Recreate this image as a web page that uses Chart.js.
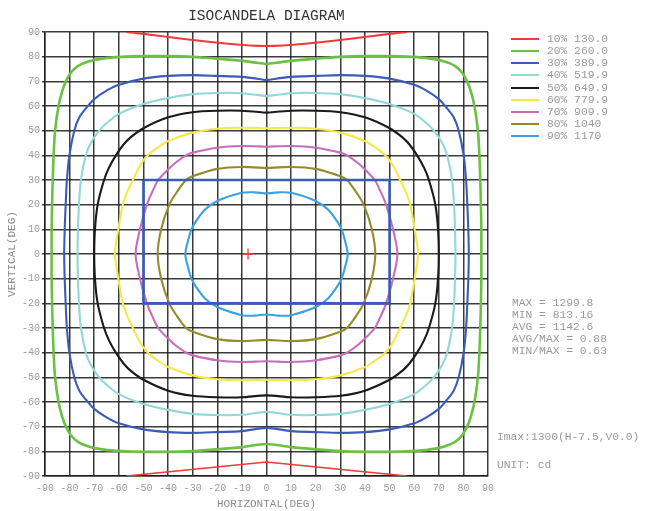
<!DOCTYPE html>
<html><head><meta charset="utf-8">
<script src="https://cdn.jsdelivr.net/npm/chart.js@4.4.1/dist/chart.umd.min.js"></script>
<style>
body{margin:0;background:#fff;}
#wrap{position:relative;width:645px;height:511px;font-family:'Liberation Mono','DejaVu Sans Mono',monospace;overflow:hidden;}
canvas{position:absolute;left:0;top:0;}
.txt{position:absolute;white-space:pre;color:#9a9a9a;font-size:11.3px;line-height:12px;}
#title{position:absolute;left:0;width:533px;top:8px;text-align:center;font-size:14.5px;color:#333;white-space:pre;}
.lg{position:absolute;left:511px;width:510px;height:12px;}
.lg span.ln{position:absolute;left:0;top:5px;width:28px;height:2px;}
.lg span.tx{position:absolute;left:36px;top:0;white-space:pre;color:#9a9a9a;font-size:11.3px;line-height:12px;}
</style></head><body>
<div id="wrap"><canvas id="c" width="645" height="511"></canvas>
<div id="title">ISOCANDELA DIAGRAM</div>
<div id="legend"></div><div id="stats"></div></div>
<script>
// ---- data ----
const levelNames = ['10%','20%','30%','40%','50%','60%','70%','80%','90%'];
const levelValues = ['130.0','260.0','389.9','519.9','649.9','779.9','909.9','1040','1170'];
const statLines = ['MAX = 1299.8','MIN = 813.16','AVG = 1142.6','AVG/MAX = 0.88','MIN/MAX = 0.63'];
const imaxText = 'Imax:1300(H-7.5,V0.0)';
const unitText = 'UNIT: cd';
const imaxPoint = [[-7.5, 0]];
const rectangle = [[-50,30],[50,30],[50,-20],[-50,-20],[-50,30]];
const axisMin = -90, axisMax = 90, tickStep = 10;

const c10Top = [[-57,90],[0,84.3],[57,90]];
const c10Bottom = [[-57,-90],[0,-84.3],[57,-90]];
const c20 = [[0,77],[-10,78.3],[-20,79.2],[-30,79.9],[-40,80.2],[-50,80.2],[-59,79.9],[-66,79.3],[-72,78.1],[-76.5,76.3],[-79.5,73.5],[-81.5,70],[-83,66],[-84.5,60],[-85.9,50],[-86.5,40],[-87,25],[-87.3,10],[-87.3,0],
 [-87.3,-10],[-87,-25],[-86.5,-40],[-85.9,-50],[-84.5,-60],[-83,-66],[-81.5,-70],[-79.5,-73.5],[-76.5,-76.3],[-72,-78.1],[-66,-79.3],[-59,-79.9],[-50,-80.2],[-40,-80.2],[-30,-79.9],[-20,-79.2],[-10,-78.3],[0,-77],
 [10,-78.3],[20,-79.2],[30,-79.9],[40,-80.2],[50,-80.2],[59,-79.9],[66,-79.3],[72,-78.1],[76.5,-76.3],[79.5,-73.5],[81.5,-70],[83,-66],[84.5,-60],[85.9,-50],[86.5,-40],[87,-25],[87.3,-10],[87.3,0],
 [87.3,10],[87,25],[86.5,40],[85.9,50],[84.5,60],[83,66],[81.5,70],[79.5,73.5],[76.5,76.3],[72,78.1],[66,79.3],[59,79.9],[50,80.2],[40,80.2],[30,79.9],[20,79.2],[10,78.3],[0,77]];
const c30 = [[0,70.5],[-10,71.8],[-20,72.2],[-30,72.5],[-40,72.2],[-50,71.1],[-60,68.6],[-65,66.2],[-70,62.8],[-73,59.5],[-76,55.5],[-78.1,50],[-80.1,40],[-81.1,30],[-81.6,20],[-82,10],[-82.2,0],
 [-82,-10],[-81.6,-20],[-81.1,-30],[-80.1,-40],[-78.1,-50],[-76,-55.5],[-73,-59.5],[-70,-62.8],[-65,-66.2],[-60,-68.6],[-50,-71.1],[-40,-72.2],[-30,-72.5],[-20,-72.2],[-10,-71.8],[0,-70.5],
 [10,-71.8],[20,-72.2],[30,-72.5],[40,-72.2],[50,-71.1],[60,-68.6],[65,-66.2],[70,-62.8],[73,-59.5],[76,-55.5],[78.1,-50],[80.1,-40],[81.1,-30],[81.6,-20],[82,-10],[82.2,0],
 [82,10],[81.6,20],[81.1,30],[80.1,40],[78.1,50],[76,55.5],[73,59.5],[70,62.8],[65,66.2],[60,68.6],[50,71.1],[40,72.2],[30,72.5],[20,72.2],[10,71.8],[0,70.5]];
const c40 = [[0,64],[-10,65.2],[-20,65.3],[-30,64.8],[-40,63.2],[-50,60.8],[-60,56.8],[-65,53],[-68,50],[-71.4,45],[-73.4,40],[-75.4,30],[-76.2,20],[-76.6,10],[-76.8,0],
 [-76.6,-10],[-76.2,-20],[-75.4,-30],[-73.4,-40],[-71.4,-45],[-68,-50],[-65,-53],[-60,-56.8],[-50,-60.8],[-40,-63.2],[-30,-64.8],[-20,-65.3],[-10,-65.2],[0,-64],
 [10,-65.2],[20,-65.3],[30,-64.8],[40,-63.2],[50,-60.8],[60,-56.8],[65,-53],[68,-50],[71.4,-45],[73.4,-40],[75.4,-30],[76.2,-20],[76.6,-10],[76.8,0],
 [76.6,10],[76.2,20],[75.4,30],[73.4,40],[71.4,45],[68,50],[65,53],[60,56.8],[50,60.8],[40,63.2],[30,64.8],[20,65.3],[10,65.2],[0,64]];
const c50 = [[0,57.3],[-10,58.1],[-20,58.1],[-30,57.5],[-40,55.4],[-50,51],[-55,47.5],[-58,44.5],[-61.2,40],[-64,35],[-66,30],[-68.6,20],[-69.7,10],[-70,0],
 [-69.7,-10],[-68.6,-20],[-66,-30],[-64,-35],[-61.2,-40],[-58,-44.5],[-55,-47.5],[-50,-51],[-40,-55.4],[-30,-57.5],[-20,-58.1],[-10,-58.1],[0,-57.3],
 [10,-58.1],[20,-58.1],[30,-57.5],[40,-55.4],[50,-51],[55,-47.5],[58,-44.5],[61.2,-40],[64,-35],[66,-30],[68.6,-20],[69.7,-10],[70,0],
 [69.7,10],[68.6,20],[66,30],[64,35],[61.2,40],[58,44.5],[55,47.5],[50,51],[40,55.4],[30,57.5],[20,58.1],[10,58.1],[0,57.3]];
const c60 = [[0,51],[-10,51.2],[-20,50.8],[-30,49.2],[-40,45.8],[-45,42.6],[-48.2,40],[-51,36.5],[-54.3,30],[-57,24.2],[-58.4,20],[-60.2,10],[-61.6,0],
 [-60.2,-10],[-58.4,-20],[-57,-24.2],[-54.3,-30],[-51,-36.5],[-48.2,-40],[-45,-42.6],[-40,-45.8],[-30,-49.2],[-20,-50.8],[-10,-51.2],[0,-51],
 [10,-51.2],[20,-50.8],[30,-49.2],[40,-45.8],[45,-42.6],[48.2,-40],[51,-36.5],[54.3,-30],[57,-24.2],[58.4,-20],[60.2,-10],[61.6,0],
 [60.2,10],[58.4,20],[57,24.2],[54.3,30],[51,36.5],[48.2,40],[45,42.6],[40,45.8],[30,49.2],[20,50.8],[10,51.2],[0,51]];
const c70 = [[0,43.5],[-10,43.8],[-20,43.1],[-30,41.1],[-32.7,40],[-37,37],[-40,34.3],[-44,30],[-46.5,25],[-48.6,20],[-51.4,10],[-53.2,0],
 [-51.4,-10],[-48.6,-20],[-46.5,-25],[-44,-30],[-40,-34.3],[-37,-37],[-32.7,-40],[-30,-41.1],[-20,-43.1],[-10,-43.8],[0,-43.5],
 [10,-43.8],[20,-43.1],[30,-41.1],[32.7,-40],[37,-37],[40,-34.3],[44,-30],[46.5,-25],[48.6,-20],[51.4,-10],[53.2,0],
 [51.4,10],[48.6,20],[46.5,25],[44,30],[40,34.3],[37,37],[32.7,40],[30,41.1],[20,43.1],[10,43.8],[0,43.5]];
const c80 = [[0,34.8],[-10,35.3],[-20,34.5],[-30,31.5],[-32.7,30],[-36.5,25],[-39.5,20],[-42.8,10],[-44.2,0],
 [-42.8,-10],[-39.5,-20],[-36.5,-25],[-32.7,-30],[-30,-31.5],[-20,-34.5],[-10,-35.3],[0,-34.8],
 [10,-35.3],[20,-34.5],[30,-31.5],[32.7,-30],[36.5,-25],[39.5,-20],[42.8,-10],[44.2,0],
 [42.8,10],[39.5,20],[36.5,25],[32.7,30],[30,31.5],[20,34.5],[10,35.3],[0,34.8]];
const c90 = [[0,24.5],[-5,25],[-10,24.8],[-20,21.5],[-25,18],[-28.5,13.5],[-30.5,10],[-32,5],[-33,0],
 [-32,-5],[-30.5,-10],[-28.5,-13.5],[-25,-18],[-20,-21.5],[-10,-24.8],[-5,-25],[0,-24.5],
 [5,-25],[10,-24.8],[20,-21.5],[25,-18],[28.5,-13.5],[30.5,-10],[32,-5],[33,0],
 [32,5],[30.5,10],[28.5,13.5],[25,18],[20,21.5],[10,24.8],[5,25],[0,24.5]];

// ---- styles ----
const lineColors = ['#f23a3a','#6cc044','#3b5cb6','#93d7d7','#1a1a1a','#f7e84a','#c96cbc','#968b2c','#3aa2e0'];
const FONT = "'Liberation Mono','DejaVu Sans Mono',monospace";

const curves = [c10Top, c20, c30, c40, c50, c60, c70, c80, c90];
const toXY = arr => arr.map(p => ({x: p[0], y: p[1]}));

const datasets = [];
datasets.push({label:'Imax', data: toXY(imaxPoint), showLine:false, pointStyle:'cross', pointRadius:5.5, borderColor:'#f23a3a', borderWidth:1.3, backgroundColor:'#f23a3a'});
datasets.push({label:'rect', data: toXY(rectangle), showLine:true, tension:0, borderColor:'#3b5cb6', borderWidth:2.6, pointRadius:0});
curves.forEach((c, i) => {
  datasets.push({label: levelNames[i] + ' ' + levelValues[i], data: toXY(c), showLine:true, tension:0.3,
    borderColor: lineColors[i], borderWidth: i === 1 ? 2.6 : 2.1, pointRadius:0, fill:false});
});
datasets.push({label:'10b', data: toXY(c10Bottom), showLine:true, tension:0, borderColor: lineColors[0], borderWidth:1.6, pointRadius:0});

const gridColor = 'rgba(25,25,25,0.85)';
new Chart(document.getElementById('c'), {
  type: 'scatter',
  data: { datasets },
  options: {
    responsive:false, animation:false, devicePixelRatio:1,
    layout: { padding: { left:0, right:157, top:32, bottom:0 } },
    plugins: { legend:{display:false}, tooltip:{enabled:false}, title:{display:false} },
    scales: {
      x: { type:'linear', min:axisMin, max:axisMax,
        ticks:{ stepSize:tickStep, color:'#9a9a9a', font:{family:FONT, size:10}, padding:6, maxRotation:0, autoSkip:false },
        grid:{ color:gridColor, lineWidth:1.5, drawTicks:false },
        border:{ color:gridColor, width:1.5 },
        title:{ display:true, text:'HORIZONTAL(DEG)', color:'#8a8a8a', font:{family:FONT, size:11}, padding:{top:0,bottom:0} },
        afterFit: s => { s.height = 35; }
      },
      y: { type:'linear', min:axisMin, max:axisMax,
        ticks:{ stepSize:tickStep, color:'#9a9a9a', font:{family:FONT, size:10}, padding:2, autoSkip:false },
        grid:{ color:gridColor, lineWidth:1.5, drawTicks:true, tickLength:3 },
        border:{ color:gridColor, width:1.5 },
        title:{ display:true, text:'VERTICAL(DEG)', color:'#8a8a8a', font:{family:FONT, size:11}, padding:{top:5,bottom:0} },
        afterFit: s => { s.width = 45; }
      }
    }
  }
});

// legend and notes
const lg = document.getElementById('legend');
const legendTops = 33, legendStep = 12.15;
levelNames.forEach((n, i) => {
  const d = document.createElement('div');
  d.className = 'lg';
  d.style.top = (legendTops + i * legendStep) + 'px';
  d.innerHTML = '<span class="ln" style="background:' + lineColors[i] + '"></span><span class="tx">' + n + ' ' + levelValues[i] + '</span>';
  lg.appendChild(d);
});
const st = document.getElementById('stats');
statLines.forEach((t, i) => {
  const d = document.createElement('div');
  d.className = 'txt'; d.style.left = '512px'; d.style.top = (297 + i * 12) + 'px';
  d.textContent = t; st.appendChild(d);
});
[[imaxText, 497, 431], [unitText, 497, 459]].forEach(([t, x, y]) => {
  const d = document.createElement('div');
  d.className = 'txt'; d.style.left = x + 'px'; d.style.top = y + 'px';
  d.textContent = t; st.appendChild(d);
});
</script>
</body></html>
